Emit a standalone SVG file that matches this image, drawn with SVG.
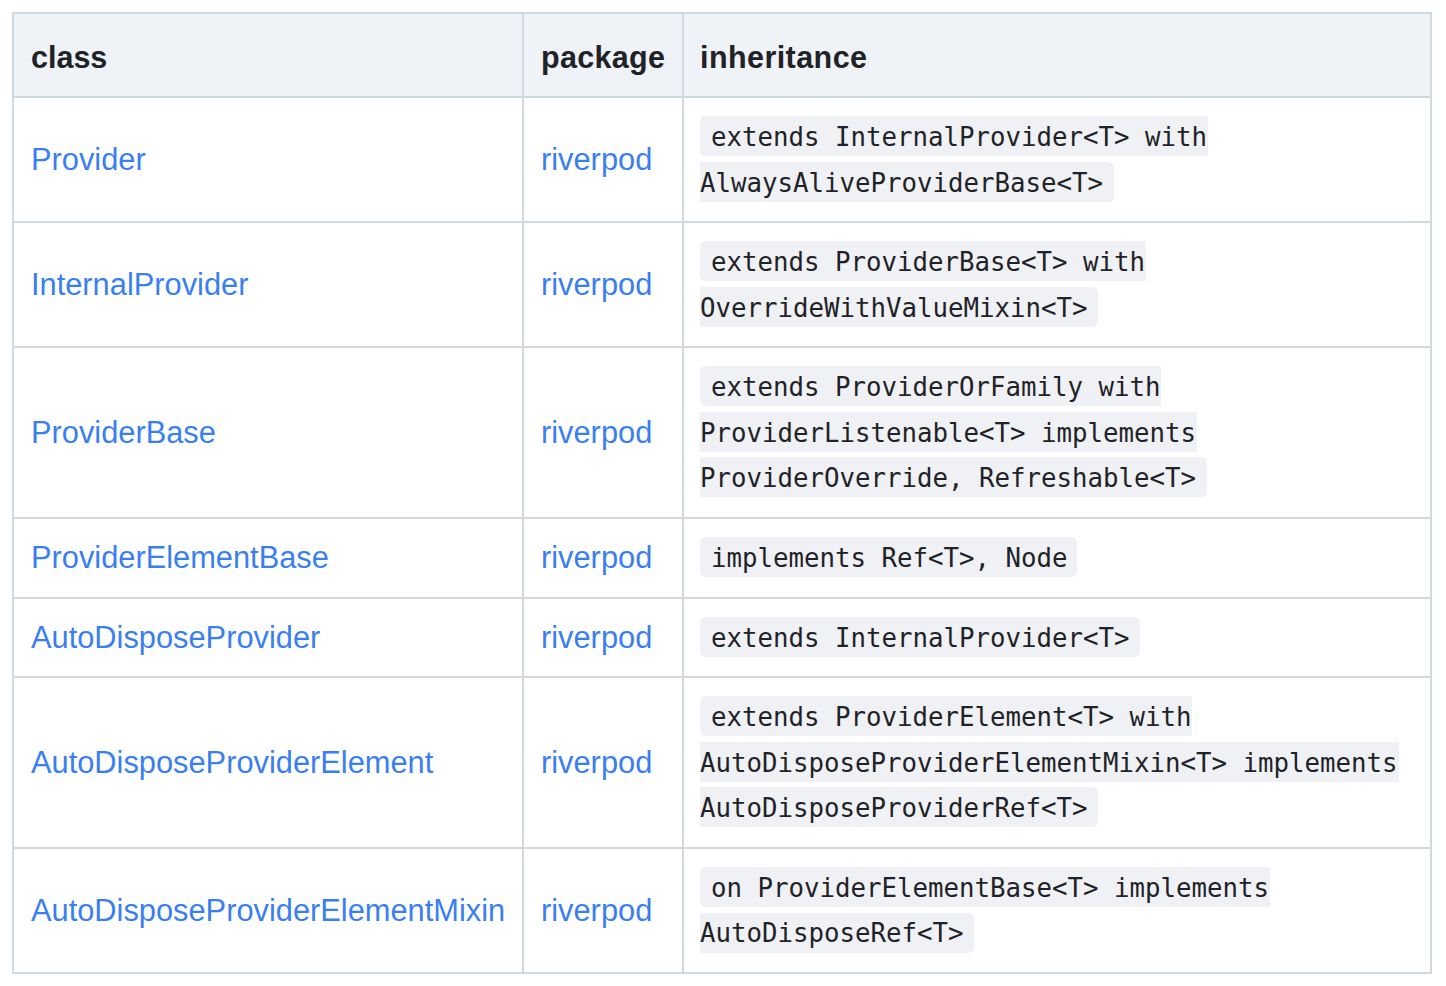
<svg xmlns="http://www.w3.org/2000/svg" width="1446" height="986" viewBox="0 0 1446 986">
<style>
.hd{font-family:"Liberation Sans",Arial,sans-serif;font-weight:bold;font-size:30.5px;fill:#1f2328}
.ln{font-family:"Liberation Sans",Arial,sans-serif;font-size:30.8px;fill:#3a7ff2}
.cd{font-family:"DejaVu Sans Mono",monospace;font-size:25.75px;fill:#1f2328}
.bg{fill:#eff1f4}
.grid{stroke:#d1d9e0;stroke-width:2;fill:none}
</style>
<rect x="0" y="0" width="1446" height="986" fill="#ffffff"/>
<g id="header">
<rect x="13" y="13" width="1418" height="84" fill="#eff2f6"/>
<text class="hd" x="31" y="68">class</text>
<text class="hd" x="541" y="68" textLength="124">package</text>
<text class="hd" x="700" y="68" textLength="167">inheritance</text>
</g>
<g id="grid" class="grid">
<rect x="13" y="13" width="1418" height="960"/>
<line x1="523" y1="13" x2="523" y2="973"/>
<line x1="683" y1="13" x2="683" y2="973"/>
<line x1="13" y1="97" x2="1431" y2="97"/>
<line x1="13" y1="222" x2="1431" y2="222"/>
<line x1="13" y1="347" x2="1431" y2="347"/>
<line x1="13" y1="518" x2="1431" y2="518"/>
<line x1="13" y1="598" x2="1431" y2="598"/>
<line x1="13" y1="677" x2="1431" y2="677"/>
<line x1="13" y1="848" x2="1431" y2="848"/>
</g>
<g id="row-provider">
<text class="ln" x="31" y="170">Provider</text>
<text class="ln" x="541" y="170">riverpod</text>
<path class="bg" d="M706,116 H1208 V156 H706 Q700,156 700,150 V122 Q700,116 706,116 Z"/>
<path class="bg" d="M700,162 H1108 Q1114,162 1114,168 V196 Q1114,202 1108,202 H700 Z"/>
<text class="cd" x="711" y="146">extends InternalProvider&lt;T&gt; with</text>
<text class="cd" x="700" y="192">AlwaysAliveProviderBase&lt;T&gt;</text>
</g>
<g id="row-internalprovider">
<text class="ln" x="31" y="295">InternalProvider</text>
<text class="ln" x="541" y="295">riverpod</text>
<path class="bg" d="M706,241 H1146 V281 H706 Q700,281 700,275 V247 Q700,241 706,241 Z"/>
<path class="bg" d="M700,287 H1092 Q1098,287 1098,293 V321 Q1098,327 1092,327 H700 Z"/>
<text class="cd" x="711" y="271">extends ProviderBase&lt;T&gt; with</text>
<text class="cd" x="700" y="317">OverrideWithValueMixin&lt;T&gt;</text>
</g>
<g id="row-providerbase">
<text class="ln" x="31" y="443">ProviderBase</text>
<text class="ln" x="541" y="443">riverpod</text>
<path class="bg" d="M706,366 H1161 V406 H706 Q700,406 700,400 V372 Q700,366 706,366 Z"/>
<rect class="bg" x="700" y="412" width="497" height="40"/>
<path class="bg" d="M700,457 H1201 Q1207,457 1207,463 V491 Q1207,497 1201,497 H700 Z"/>
<text class="cd" x="711" y="396">extends ProviderOrFamily with</text>
<text class="cd" x="700" y="442">ProviderListenable&lt;T&gt; implements</text>
<text class="cd" x="700" y="487">ProviderOverride, Refreshable&lt;T&gt;</text>
</g>
<g id="row-providerelementbase">
<text class="ln" x="31" y="568">ProviderElementBase</text>
<text class="ln" x="541" y="568">riverpod</text>
<rect class="bg" x="700" y="537" width="377" height="40" rx="6"/>
<text class="cd" x="711" y="567">implements Ref&lt;T&gt;, Node</text>
</g>
<g id="row-autodisposeprovider">
<text class="ln" x="31" y="648">AutoDisposeProvider</text>
<text class="ln" x="541" y="648">riverpod</text>
<rect class="bg" x="700" y="617" width="440" height="40" rx="6"/>
<text class="cd" x="711" y="647">extends InternalProvider&lt;T&gt;</text>
</g>
<g id="row-autodisposeproviderelement">
<text class="ln" x="31" y="773">AutoDisposeProviderElement</text>
<text class="ln" x="541" y="773">riverpod</text>
<path class="bg" d="M706,696 H1192 V736 H706 Q700,736 700,730 V702 Q700,696 706,696 Z"/>
<rect class="bg" x="700" y="742" width="699" height="40"/>
<path class="bg" d="M700,787 H1092 Q1098,787 1098,793 V821 Q1098,827 1092,827 H700 Z"/>
<text class="cd" x="711" y="726">extends ProviderElement&lt;T&gt; with</text>
<text class="cd" x="700" y="772">AutoDisposeProviderElementMixin&lt;T&gt; implements</text>
<text class="cd" x="700" y="817">AutoDisposeProviderRef&lt;T&gt;</text>
</g>
<g id="row-autodisposeproviderelementmixin">
<text class="ln" x="31" y="921">AutoDisposeProviderElementMixin</text>
<text class="ln" x="541" y="921">riverpod</text>
<path class="bg" d="M706,867 H1270 V907 H706 Q700,907 700,901 V873 Q700,867 706,867 Z"/>
<path class="bg" d="M700,913 H968 Q974,913 974,919 V947 Q974,953 968,953 H700 Z"/>
<text class="cd" x="711" y="897">on ProviderElementBase&lt;T&gt; implements</text>
<text class="cd" x="700" y="942">AutoDisposeRef&lt;T&gt;</text>
</g>
</svg>
